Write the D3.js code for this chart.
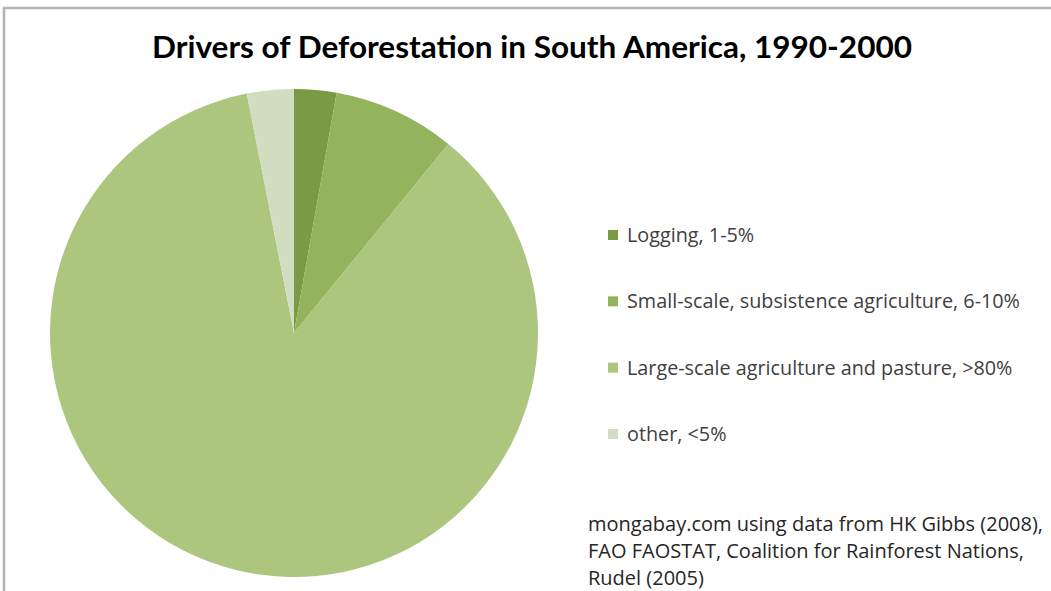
<!DOCTYPE html>
<html>
<head>
<meta charset="utf-8">
<script src="https://cdn.jsdelivr.net/npm/d3@7"></script>
<style>
  html, body { margin: 0; padding: 0; background: #fff; }
  svg { display: block; }
</style>
</head>
<body>
<div id="chart"></div>
<script>
// Chart data
const categories = [
    'Logging, 1-5%',
    'Small-scale, subsistence agriculture, 6-10%',
    'Large-scale agriculture and pasture, >80%',
    'other, <5%'
];
const shares = [2.8, 8.1, 86.0, 3.1];
const sliceColors = ['#7a9a45', '#93b35c', '#adc67e', '#d1ddc0'];
const sourceLines = [
    'mongabay.com using data from HK Gibbs (2008),',
    'FAO FAOSTAT, Coalition for Rainforest Nations,',
    'Rudel (2005)'
];

const width = 1051;
const height = 591;
const titleFont = 'Lato, "Open Sans", sans-serif';
const bodyFont = '"Open Sans", Lato, sans-serif';

const svg = d3.select('#chart')
    .append('svg')
    .attr('width', width)
    .attr('height', height);

// Frame of the chart area (top and left edges visible)
svg.append('rect')
    .attr('x', 4)
    .attr('y', 8)
    .attr('width', width + 10)
    .attr('height', height + 10)
    .attr('fill', 'none')
    .attr('stroke', '#b4b4b4')
    .attr('stroke-width', 2.5);

// Title
svg.append('text')
    .attr('x', 532)
    .attr('y', 58)
    .attr('text-anchor', 'middle')
    .attr('font-family', titleFont)
    .attr('font-weight', 'bold')
    .attr('font-size', 30)
    .attr('fill', '#000')
    .attr('textLength', 760)
    .attr('lengthAdjust', 'spacingAndGlyphs')
    .text('Drivers of Deforestation in South America, 1990-2000');

// Pie
const color = d3.scaleOrdinal()
    .domain(categories)
    .range(sliceColors);

const pie = d3.pie()
    .sort(null)
    .value(d => d.value);

const radius = 244;
const arc = d3.arc()
    .innerRadius(0)
    .outerRadius(radius);

const data = categories.map((name, i) => ({ name, value: shares[i] }));

const g = svg.append('g')
    .attr('transform', 'translate(294,333)');

g.selectAll('path')
    .data(pie(data))
    .join('path')
    .attr('d', arc)
    .attr('fill', d => color(d.data.name));

// Legend
const legendY = d3.scalePoint()
    .domain(categories)
    .range([235, 434]);

const legend = svg.append('g')
    .selectAll('g')
    .data(categories)
    .join('g')
    .attr('transform', d => `translate(608,${legendY(d)})`);

legend.append('rect')
    .attr('x', 0)
    .attr('y', -5)
    .attr('width', 10)
    .attr('height', 10)
    .attr('fill', d => color(d));

legend.append('text')
    .attr('x', 19)
    .attr('y', 0)
    .attr('dy', '0.35em')
    .attr('font-family', bodyFont)
    .attr('font-size', 19.8)
    .attr('fill', '#404040')
    .text(d => d);

// Source note
svg.append('g')
    .selectAll('text')
    .data(sourceLines)
    .join('text')
    .attr('x', 588)
    .attr('y', (d, i) => 531 + i * 27)
    .attr('font-family', bodyFont)
    .attr('font-size', 20)
    .attr('fill', '#262626')
    .text(d => d);
</script>
</body>
</html>
